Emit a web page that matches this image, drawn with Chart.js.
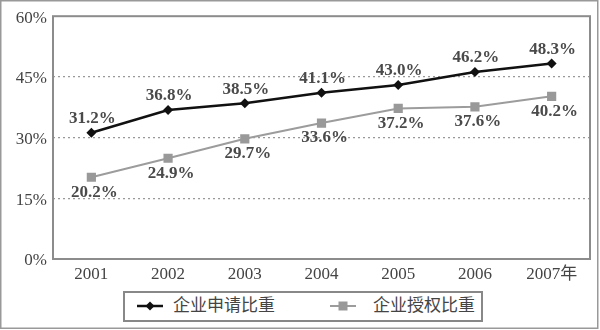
<!DOCTYPE html>
<html><head><meta charset="utf-8">
<script src="https://cdn.jsdelivr.net/npm/chart.js@4"></script>
<style>
html,body{margin:0;padding:0;background:#fff;}
#wrap{position:relative;width:600px;height:330px;overflow:hidden;}
#c{position:absolute;left:0;top:0;}
.legend{position:absolute;left:123px;top:291px;width:360px;height:31px;box-sizing:border-box;border:2px solid #888;font-family:"Liberation Serif","Noto Sans CJK SC",serif;font-size:17px;color:#444;background:#fff;}
.legend .mk{position:absolute;top:7px;width:26px;height:12px;}
.legend .tx{position:absolute;top:3px;line-height:20px;white-space:nowrap;}
</style></head>
<body>
<div id="wrap">
<canvas id="c" width="600" height="330"></canvas>
<div class="legend" id="legend"></div>
</div>
<script>
const categories = ['2001','2002','2003','2004','2005','2006','2007年'];
const seriesNames = ['企业申请比重','企业授权比重'];
const applyShare = [31.2,36.8,38.5,41.1,43.0,46.2,48.3];
const grantShare = [20.2,24.9,29.7,33.6,37.2,37.6,40.2];
const yTicks = [0,15,30,45,60];

const FONT = '"Liberation Serif","Noto Sans CJK SC",serif';

const frame = {
  id:'frame',
  beforeDraw(chart){
    const c = chart.ctx;
    c.save();
    c.fillStyle='#fff';c.fillRect(0,0,chart.width,chart.height);
    c.strokeStyle='#999';c.lineWidth=1.5;
    c.strokeRect(0.75,0.75,597,327.5);
    c.restore();
  },
  afterDraw(chart){
    const a = chart.chartArea, c = chart.ctx;
    c.save();
    c.strokeStyle='#8c8c8c';c.lineWidth=2;
    c.strokeRect(a.left,a.top,a.right-a.left,a.bottom-a.top);
    c.restore();
  }
};

const labelsPlugin = {
  id:'vlabels',
  afterDatasetsDraw(chart){
    const c = chart.ctx;
    c.save();
    c.font = 'bold 17px '+FONT;
    c.fillStyle='#4a4a4a';
    c.textAlign='center';c.textBaseline='middle';
    chart.data.datasets.forEach((ds,i)=>{
      const meta = chart.getDatasetMeta(i);
      const dx = i===0?1:3, dy = i===0?-14:15;
      meta.data.forEach((pt,j)=>{
        c.fillText(ds.data[j].toFixed(1)+'%', pt.x+dx, pt.y+dy);
      });
    });
    c.restore();
  }
};

new Chart(document.getElementById('c'),{
  type:'line',
  data:{
    labels:categories,
    datasets:[
      {label:seriesNames[0],data:applyShare,borderColor:'#111',borderWidth:2.5,
       pointStyle:'rectRot',pointRadius:5,pointBackgroundColor:'#111',pointBorderColor:'#111',pointBorderWidth:0,tension:0},
      {label:seriesNames[1],data:grantShare,borderColor:'#9c9c9c',borderWidth:2,
       pointStyle:'rect',pointRadius:6.5,pointBackgroundColor:'#999',pointBorderColor:'#999',pointBorderWidth:0,tension:0}
    ]
  },
  options:{
    responsive:false,animation:false,devicePixelRatio:1,
    layout:{padding:{left:0,right:10,top:16,bottom:41}},
    plugins:{legend:{display:false},tooltip:{enabled:false}},
    scales:{
      x:{
        offset:true,
        grid:{display:false,drawTicks:false},
        border:{display:false},
        ticks:{font:{family:FONT,size:17},color:'#444',padding:5,maxRotation:0},
        afterFit(s){s.height=30;}
      },
      y:{
        min:0,max:60,
        afterBuildTicks(s){s.ticks=yTicks.map(v=>({value:v}));},
        grid:{drawTicks:false,lineWidth:1.2,
          color:(ctx)=>(ctx.tick && (ctx.tick.value===0||ctx.tick.value===60))?'rgba(0,0,0,0)':'#999'},
        border:{display:false,dash:[2,3]},
        ticks:{font:{family:FONT,size:17},color:'#444',padding:6,labelOffset:2,
          callback:(v)=>v+'%'},
        afterFit(s){s.width=53;}
      }
    }
  },
  plugins:[frame,labelsPlugin]
});

// legend built from series names
const lg = document.getElementById('legend');
const mk = [
  '<svg class="mk" viewBox="0 0 26 12"><line x1="0" y1="6" x2="26" y2="6" stroke="#111" stroke-width="2.5"/><polygon points="13,1.5 17.5,6 13,10.5 8.5,6" fill="#111"/></svg>',
  '<svg class="mk" viewBox="0 0 26 12"><line x1="0" y1="6" x2="26" y2="6" stroke="#9c9c9c" stroke-width="2"/><rect x="8.5" y="1.5" width="9" height="9" fill="#999"/></svg>'
];
const mkLeft=[12,205], txLeft=[48,248];
seriesNames.forEach((n,i)=>{
  lg.insertAdjacentHTML('beforeend', mk[i].replace('class="mk"','class="mk" style="left:'+mkLeft[i]+'px"'));
  lg.insertAdjacentHTML('beforeend','<span class="tx" style="left:'+txLeft[i]+'px">'+n+'</span>');
});
</script>
</body></html>
